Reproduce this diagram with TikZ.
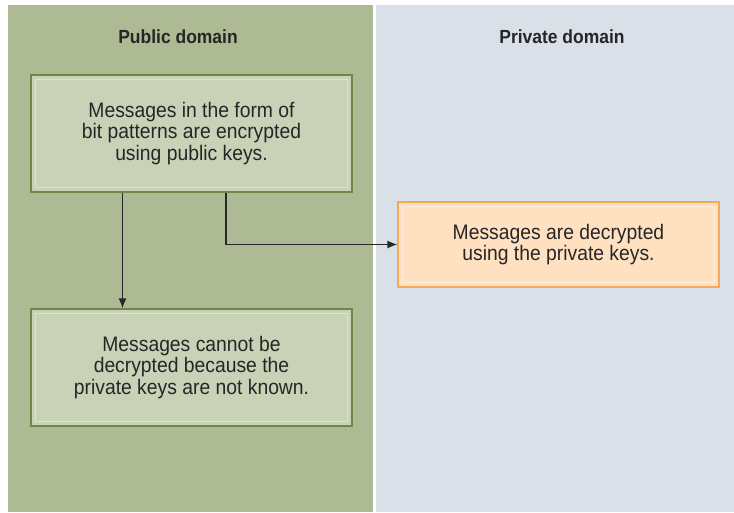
\documentclass[tikz,border=0pt]{standalone}
\usepackage{fontspec}
\setmainfont{Liberation Sans}[FakeStretch=0.92]
\usetikzlibrary{arrows.meta}
\definecolor{pubbg}{RGB}{174,186,148}
\definecolor{privbg}{RGB}{218,224,231}
\definecolor{gbfill}{RGB}{201,209,183}
\definecolor{gbline}{RGB}{108,135,72}
\definecolor{gbinner}{RGB}{221,227,208}
\definecolor{obfill}{RGB}{255,224,193}
\definecolor{obline}{RGB}{246,168,84}
\definecolor{obinner}{RGB}{255,237,217}
\definecolor{txt}{RGB}{38,38,38}
\definecolor{arr}{RGB}{40,40,40}
\tikzset{
  greenbox/.style={draw=gbline, fill=gbfill, line width=1.2pt, minimum width=321pt, minimum height=117pt, inner sep=0pt, align=center, text=txt, font=\fontsize{21}{21.5}\selectfont},
  orangebox/.style={draw=obline, fill=obfill, line width=1.2pt, minimum width=321pt, minimum height=85pt, inner sep=0pt, align=center, text=txt, font=\fontsize{21}{21.5}\selectfont},
  title/.style={font=\fontsize{19}{20}\selectfont\bfseries, text=txt, inner sep=0pt},
  conn/.style={draw=arr, line width=1.4pt, -{Latex[length=10pt,width=8pt]}},
}
\begin{document}
\begin{tikzpicture}[x=1pt,y=-1pt]
\useasboundingbox (0,0) rectangle (734,512);
\fill[white] (0,0) rectangle (734,512);
\fill[pubbg] (8,5) rectangle (373,512);
\fill[privbg] (376,5) rectangle (734,512);
\node[title] (tpub) at (178,37) {Public domain};
\node[title] (tpriv) at (562,37) {Private domain};
\node[greenbox] (top) at (191.5,133.5) {Messages in the form of\\bit patterns are encrypted\\using public keys.};
\node[greenbox] (bot) at (191.5,367.5) {Messages cannot be\\decrypted because the\\private keys are not known.};
\node[orangebox] (dec) at (558.5,244.5) {Messages are decrypted\\using the private keys.};
\foreach \n/\c in {top/gbinner, bot/gbinner, dec/obinner}{
  \draw[\c, line width=1pt] ([shift={(5pt,-5pt)}]\n.north west) rectangle ([shift={(-5pt,5pt)}]\n.south east);
}
\draw[conn] ([xshift=-69pt]top.south) -- ([xshift=-69pt]bot.north);
\draw[conn] ([xshift=34.5pt]top.south) |- (dec.west);
\end{tikzpicture}
\end{document}
